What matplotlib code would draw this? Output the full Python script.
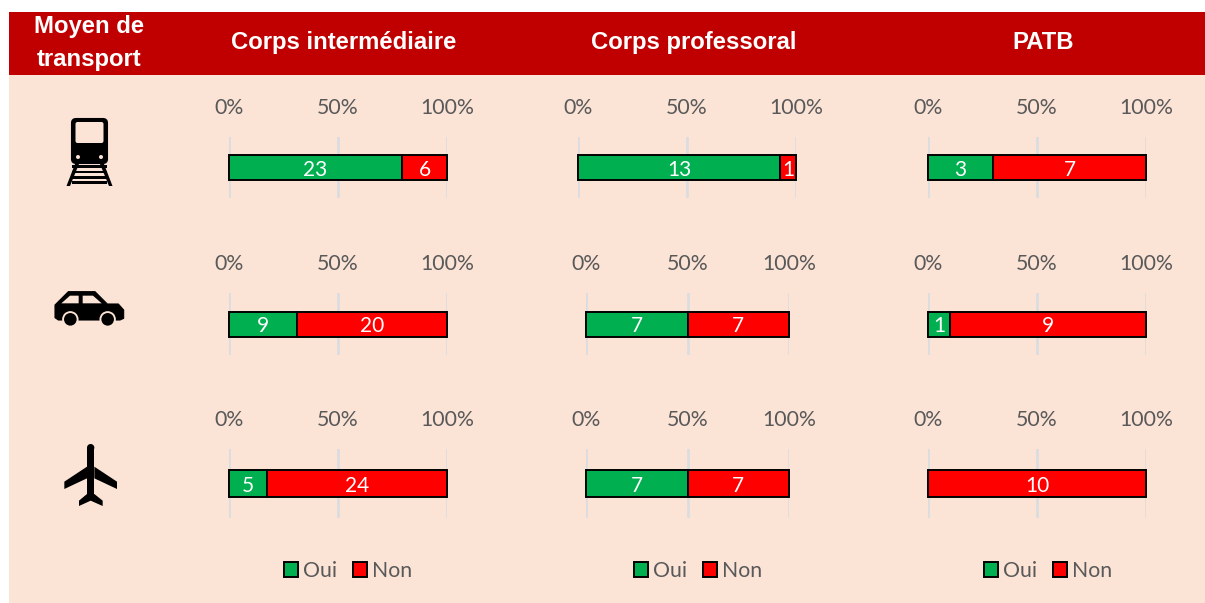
import matplotlib
matplotlib.use("Agg")
import matplotlib.pyplot as plt
from matplotlib.patches import Rectangle, Polygon, Circle, FancyBboxPatch

W = 1205
H = 603
GREEN = "#00B050"
RED = "#FF0000"
BG = "#FBE3D6"
DARKRED = "#C00000"
GREY = "#595959"

plt.rcParams['font.family'] = ['Lato', 'DejaVu Sans']

groups = ["Corps intermédiaire", "Corps professoral", "PATB"]
oui_train = [23, 13, 3]
non_train = [6, 1, 7]
oui_car = [9, 7, 1]
non_car = [20, 7, 9]
oui_plane = [5, 7, 0]
non_plane = [24, 7, 10]
ticks = [0, 50, 100]
tick_labels = ["0%", "50%", "100%"]


# axe en pixels de l'image
def pixel_axes(x0, x1, y0, y1):
    ax = fig.add_axes([x0 / W, 1 - y1 / H, (x1 - x0) / W, (y1 - y0) / H])
    ax.patch.set_alpha(0)
    return ax


def make_bar(x0, x1, y0, y1, bar_h, pad, oui, non):
    ax = pixel_axes(x0, x1, y0, y1)
    total = oui + non
    p_oui = oui / total * 100
    p_non = non / total * 100
    bars = []
    bars.append(ax.barh(0, p_oui, height=bar_h, color=GREEN, edgecolor="black", linewidth=1.4,
                        zorder=3, label="Oui", clip_on=False))
    bars.append(ax.barh(0, p_non, left=p_oui, height=bar_h, color=RED, edgecolor="black", linewidth=1.4,
                        zorder=3, label="Non", clip_on=False))
    if oui > 0:
        ax.text(p_oui / 2, 0, str(oui), color="white", ha="center", va="center_baseline", fontsize=15, zorder=4)
    ax.text(p_oui + p_non / 2, 0, str(non), color="white", ha="center", va="center_baseline", fontsize=15, zorder=4)
    ax.set_xlim(0, 100)
    ax.set_ylim(-0.5, 0.5)
    ax.set_yticks([])
    ax.set_xticks(ticks)
    ax.set_xticklabels(tick_labels, fontsize=15.3, color=GREY)
    ax.xaxis.tick_top()
    ax.tick_params(axis="x", length=0, pad=pad)
    ax.grid(axis="x", color="#D9DCE0", linewidth=1.9, zorder=1)
    for s in ax.spines.values():
        s.set_visible(False)
    return bars


def icon_pts(pts):
    return [(x / 3 + 30, y / 3 + 270) for x, y in pts]


def mirror(pts, cx):
    return [(2 * cx - x, y) for x, y in pts]


def draw_train(a):
    a.add_patch(FancyBboxPatch((72, 119), 35, 44, boxstyle="round,pad=0,rounding_size=4", fc="black", ec="black", lw=1.5))
    a.add_patch(FancyBboxPatch((75.5, 122), 28, 21, boxstyle="round,pad=0,rounding_size=2", fc=BG, ec="none"))
    a.add_patch(Circle((78, 157), 2, fc=BG, ec="none"))
    a.add_patch(Circle((101, 157), 2, fc=BG, ec="none"))
    a.add_patch(Polygon([(75, 164), (79, 164), (70, 186), (66.5, 186)], fc="black", ec="none"))
    a.add_patch(Polygon([(104, 164), (100, 164), (109, 186), (112.5, 186)], fc="black", ec="none"))
    for y in [165, 170.5, 176, 181]:
        a.add_patch(Rectangle((72, y), 35, 2.6, fc="black", ec="none"))


def draw_car(a):
    body = [(115, 65), (195, 65), (232, 102), (265, 102), (281, 120), (281, 145), (270, 150),
            (85, 150), (75, 143), (75, 105)]
    a.add_patch(Polygon(icon_pts(body), fc="black", ec="black", lw=0.8, joinstyle="round"))
    a.add_patch(Polygon(icon_pts([(94, 100), (120, 77), (146, 77), (146, 100)]), fc=BG, ec="none"))
    a.add_patch(Polygon(icon_pts([(158, 77), (189, 77), (215, 100), (158, 100)]), fc=BG, ec="none"))
    for cx in [121, 233]:
        c = icon_pts([(cx, 148)])[0]
        a.add_patch(Circle(c, 8.2, fc=BG, ec="none"))
        a.add_patch(Circle(c, 6.3, fc="black", ec="none"))


def draw_plane(a):
    cx = 182
    body = [(171, 533), (193, 533), (193, 672), (171, 672)]
    wing = [(171, 590), (103, 635), (103, 657), (171, 625)]
    tail = [(171, 672), (147, 692), (147, 708), (182, 692), (218, 708), (218, 692), (193, 672)]
    a.add_patch(Circle(icon_pts([(cx, 533)])[0], 11 / 3, fc="black", ec="none"))
    a.add_patch(Polygon(icon_pts(body), fc="black", ec="none"))
    a.add_patch(Polygon(icon_pts(wing), fc="black", ec="none"))
    a.add_patch(Polygon(icon_pts(mirror(wing, cx)), fc="black", ec="none"))
    a.add_patch(Polygon(icon_pts(tail), fc="black", ec="none"))


fig = plt.figure(figsize=(W / 100, H / 100), dpi=100, facecolor="white")

# fond et bandeau du haut
back = fig.add_axes([0, 0, 1, 1])
back.set_xlim(0, W)
back.set_ylim(H, 0)
back.axis("off")
back.add_patch(Rectangle((9, 12), W - 9, H - 12, fc=BG, ec="none"))
back.add_patch(Rectangle((9, 12), W - 9, 63, fc=DARKRED, ec="none"))
back.text(89, 43, "Moyen de\ntransport", color="white", ha="center", va="center",
          fontsize=17.2, fontweight="bold", family="Liberation Sans", linespacing=1.55)
for name, cx in zip(groups, [344, 694, 1043]):
    back.text(cx, 49, name, color="white", ha="center", va="baseline",
              fontsize=17.2, fontweight="bold", family="Liberation Sans")

draw_train(back)
draw_car(back)
draw_plane(back)

# positions des graphiques en pixels
rows = [
    (137, 198, 25 / 61, 14, oui_train, non_train, [(229, 447), (578, 796), (928, 1146)]),
    (293, 355, 25 / 62, 14, oui_car, non_car, [(229, 447), (586, 789), (928, 1146)]),
    (449, 518, 27 / 69, 14, oui_plane, non_plane, [(229, 447), (586, 789), (928, 1146)]),
]
last = None
for y0, y1, bar_h, pad, oui, non, xs in rows:
    for i, (x0, x1) in enumerate(xs):
        last = make_bar(x0, x1, y0, y1, bar_h, pad, oui[i], non[i])

for cx in [348, 698, 1048]:
    leg = fig.legend(handles=last, labels=["Oui", "Non"], loc="center", ncol=2,
                     bbox_to_anchor=(cx / W, 1 - 571 / H), frameon=False, fontsize=15.3,
                     handlelength=0.65, handleheight=0.65, handletextpad=0.25, columnspacing=0.75,
                     labelcolor=GREY)

fig.savefig("out.png", dpi=100)
